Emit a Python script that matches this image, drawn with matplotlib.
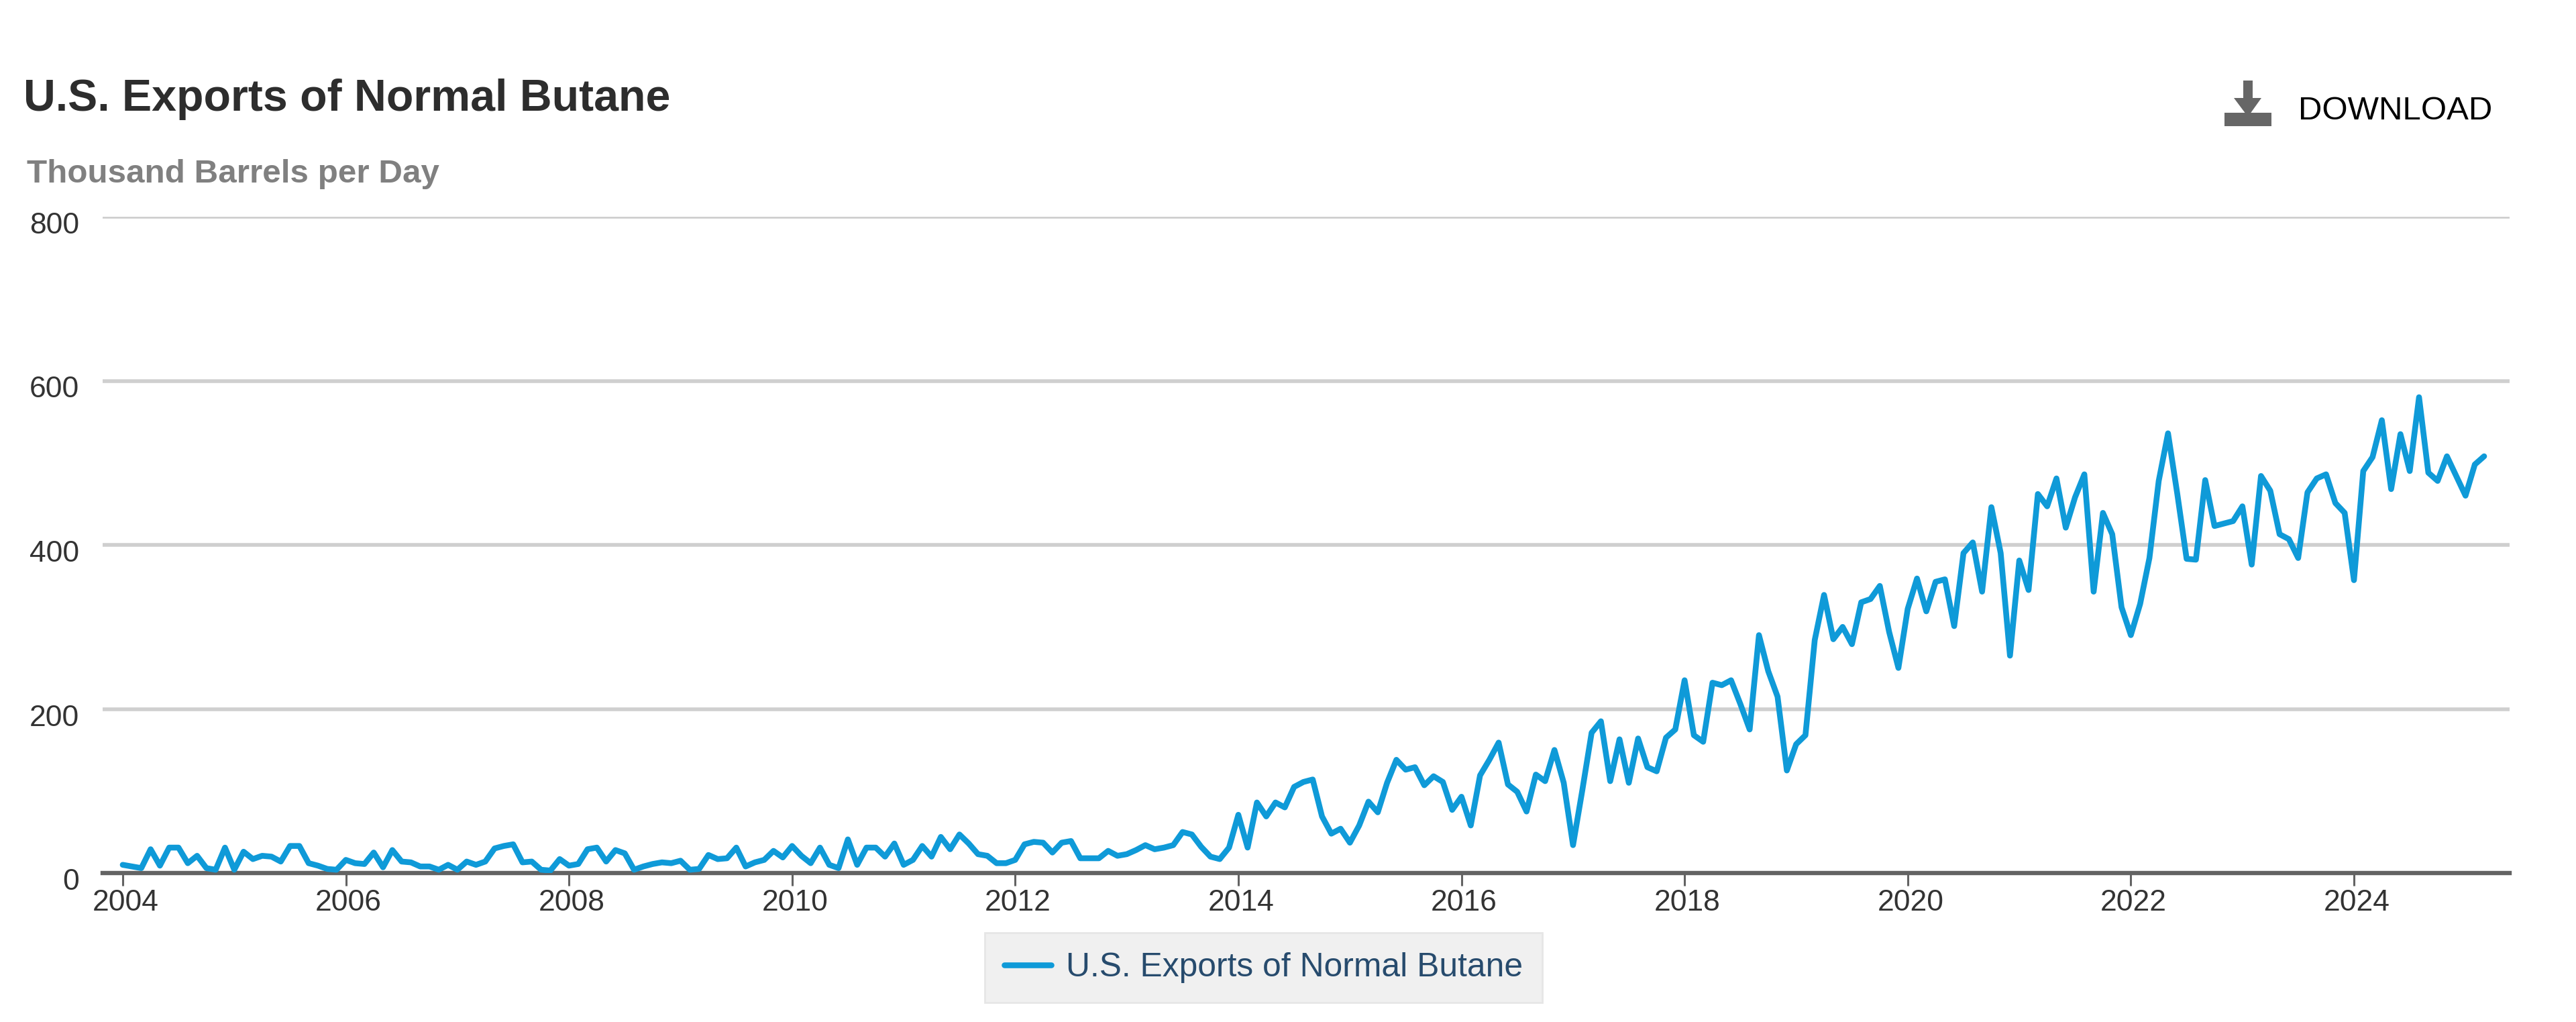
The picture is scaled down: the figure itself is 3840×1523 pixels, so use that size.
"""U.S. Exports of Normal Butane, monthly line chart."""

import matplotlib

matplotlib.use("Agg")

import matplotlib.pyplot as plt
import numpy as np
from matplotlib.patches import Polygon, Rectangle
from matplotlib.transforms import ScaledTranslation

WIDTH = 3840
HEIGHT = 1523
DPI = 100

TITLE = "U.S. Exports of Normal Butane"
UNITS = "Thousand Barrels per Day"
START_YEAR = 2004

# monthly values by year
Y2004 = [10, 8, 6, 29, 9, 31, 31, 12, 21, 6, 4, 31]
Y2005 = [4, 26, 17, 21, 20, 14, 33, 33, 12, 9, 5, 4]
Y2006 = [16, 12, 11, 25, 7, 28, 14, 13, 8, 8, 4, 10]
Y2007 = [4, 14, 10, 14, 30, 33, 35, 13, 14, 4, 3, 17]
Y2008 = [9, 11, 29, 31, 14, 28, 24, 4, 8, 11, 13, 12]
Y2009 = [15, 4, 5, 22, 17, 18, 31, 8, 13, 16, 27, 19]
Y2010 = [33, 21, 12, 31, 10, 6, 41, 10, 31, 31, 20, 36]
Y2011 = [10, 16, 33, 20, 44, 29, 47, 36, 23, 21, 12, 12]
Y2012 = [16, 35, 38, 37, 25, 37, 39, 18, 18, 18, 27, 21]
Y2013 = [23, 28, 34, 29, 31, 34, 50, 47, 32, 20, 17, 31]
Y2014 = [71, 31, 86, 69, 86, 80, 105, 111, 114, 69, 48, 54]
Y2015 = [37, 58, 87, 74, 110, 138, 126, 129, 107, 118, 111, 77]
Y2016 = [93, 58, 119, 138, 159, 108, 99, 75, 120, 112, 150, 110]
Y2017 = [34, 101, 171, 185, 112, 163, 110, 164, 129, 124, 165, 175]
Y2018 = [235, 168, 160, 232, 229, 235, 206, 175, 290, 246, 215, 125]
Y2019 = [157, 168, 284, 339, 285, 300, 279, 330, 334, 350, 294, 250]
Y2020 = [322, 359, 319, 355, 358, 301, 390, 403, 343, 446, 390, 265]
Y2021 = [381, 345, 462, 447, 481, 421, 458, 486, 343, 439, 413, 324]
Y2022 = [290, 328, 384, 478, 536, 462, 383, 382, 479, 423, 426, 429]
Y2023 = [447, 376, 484, 466, 413, 407, 384, 464, 481, 486, 451, 439]
Y2024 = [357, 490, 507, 552, 468, 535, 490, 580, 488, 478, 508, 484]
Y2025 = [460, 498, 508]

X_TICKS = [2004, 2006, 2008, 2010, 2012, 2014, 2016, 2018, 2020, 2022, 2024]
Y_TICKS = [0, 200, 400, 600, 800]

BLUE = "#0f9ad8"
GRID = "#cfcfcf"
AXIS = "#636363"
TICK_TEXT = "#333333"

plt.rcParams["font.family"] = ["Liberation Sans", "DejaVu Sans"]


def fx(x):
    """Pixel column to figure fraction."""
    return x / WIDTH


def fy(y):
    """Pixel row (from the top) to figure fraction."""
    return 1 - y / HEIGHT


def draw_download_icon(fig):
    """Grey arrow over a bar, top right of the chart."""
    icon = "#666666"
    fig.add_artist(Rectangle((fx(3316), fy(188)), 70 / WIDTH, 20 / HEIGHT,
                             transform=fig.transFigure, color=icon, lw=0))
    fig.add_artist(Rectangle((fx(3344), fy(150)), 14 / WIDTH, 30 / HEIGHT,
                             transform=fig.transFigure, color=icon, lw=0))
    head = [(fx(3330), fy(146)), (fx(3371), fy(146)), (fx(3351), fy(174))]
    fig.add_artist(Polygon(head, closed=True, transform=fig.transFigure,
                           color=icon, lw=0))


def main():
    values = np.array(
        Y2004 + Y2005 + Y2006 + Y2007 + Y2008 + Y2009 + Y2010 + Y2011
        + Y2012 + Y2013 + Y2014 + Y2015 + Y2016 + Y2017 + Y2018 + Y2019
        + Y2020 + Y2021 + Y2022 + Y2023 + Y2024 + Y2025
    )
    dates = START_YEAR + np.arange(len(values)) / 12

    fig = plt.figure(figsize=(WIDTH / DPI, HEIGHT / DPI), dpi=DPI, facecolor="white")
    ax = fig.add_axes([fx(153), fy(1301), (3741 - 153) / WIDTH, (1301 - 323) / HEIGHT])

    line, = ax.plot(dates, values, color=BLUE, lw=6.2, solid_joinstyle="round",
                    solid_capstyle="round", label=TITLE, zorder=4)

    ax.set_xlim(2003.82, 2025.395)
    ax.set_ylim(0, 800)
    ax.set_xticks(X_TICKS)
    ax.set_yticks(Y_TICKS)
    ax.grid(axis="y", color=GRID, lw=4, zorder=1)
    ax.set_axisbelow(True)

    for side in ["top", "left", "right"]:
        ax.spines[side].set_visible(False)
    ax.spines["bottom"].set_color(AXIS)
    ax.spines["bottom"].set_linewidth(4.6)
    ax.spines["bottom"].set_zorder(3)

    ax.tick_params(axis="x", length=14, width=2.2, color=AXIS, labelsize=32,
                   labelcolor=TICK_TEXT, pad=3)
    ax.tick_params(axis="y", length=0, labelsize=32, labelcolor=TICK_TEXT, pad=25)

    # the labels sit a bit off their ticks in the original
    for label in ax.get_yticklabels():
        label.set_transform(label.get_transform()
                            + ScaledTranslation(0, -9 / DPI, fig.dpi_scale_trans))
    for label in ax.get_xticklabels():
        label.set_transform(label.get_transform()
                            + ScaledTranslation(4 / DPI, 0, fig.dpi_scale_trans))

    fig.text(fx(35), fy(148), TITLE, fontsize=47.7, fontweight="bold",
             color="#2d2d2d", ha="left", va="center")
    fig.text(fx(40), fy(260), UNITS, fontsize=35.6, fontweight="bold",
             color="#808080", ha="left", va="center")
    fig.text(fx(3426), fy(166), "DOWNLOAD", fontsize=35.4, color="#000000",
             ha="left", va="center")
    draw_download_icon(fig)

    legend = ax.legend(
        handles=[line],
        loc="center",
        bbox_to_anchor=(fx(1883.5), fy(1442)),
        bbox_transform=fig.transFigure,
        fontsize=35.8,
        frameon=True,
        fancybox=False,
        facecolor="#f0f0f0",
        edgecolor="#e6e6e6",
        framealpha=1,
        borderpad=0.58,
        handlelength=1.4,
        handletextpad=0.45,
        borderaxespad=0,
    )
    legend.get_frame().set_linewidth(2)
    legend.get_texts()[0].set_color("#274b6d")

    fig.savefig("out.png", dpi=DPI)


if __name__ == "__main__":
    main()
